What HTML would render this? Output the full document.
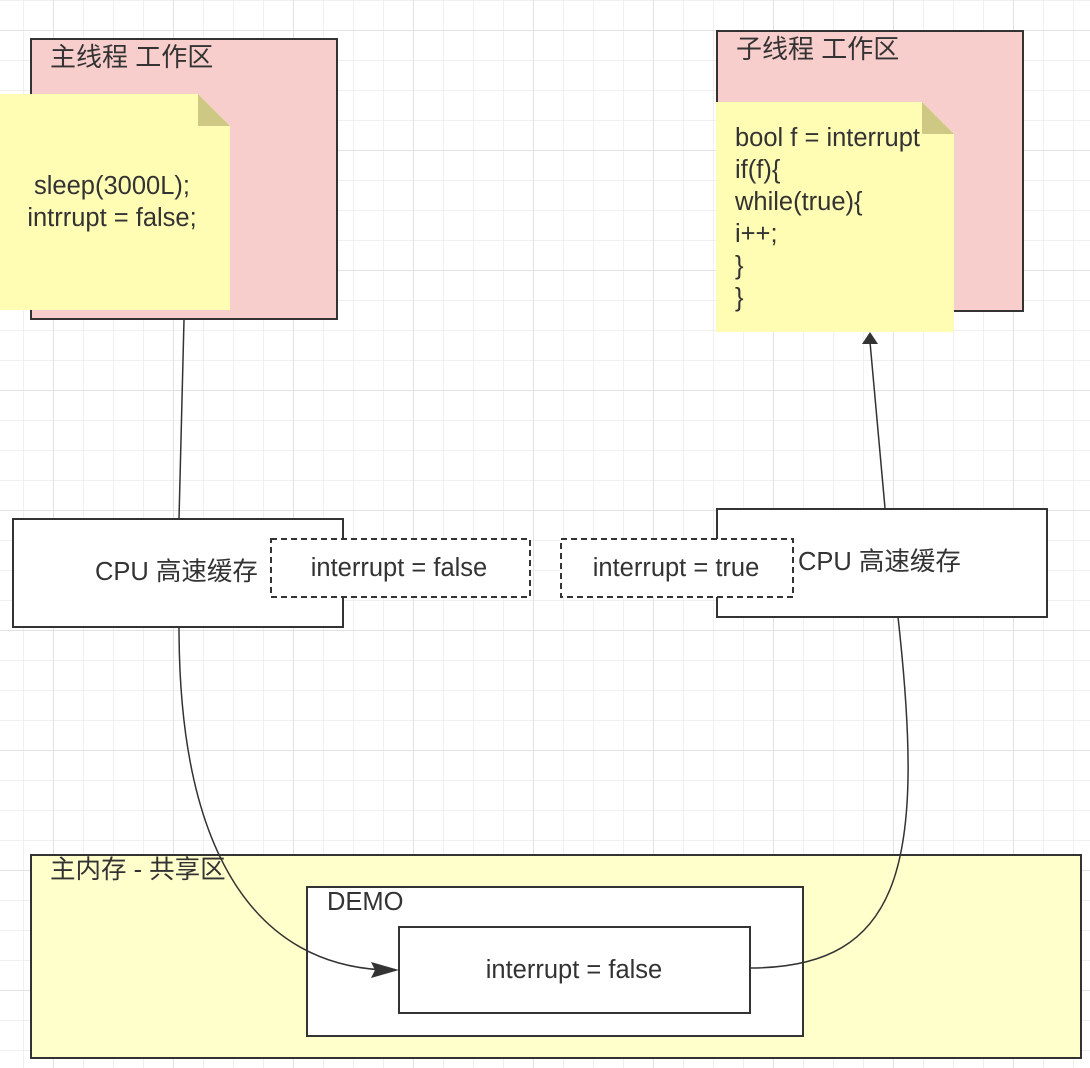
<!DOCTYPE html>
<html><head><meta charset="utf-8"><style>
html,body{margin:0;padding:0;background:#fff;}
svg{display:block}
text{font-family:"Liberation Sans","Noto Sans CJK SC",sans-serif;fill:#333;}
</style></head><body>
<svg width="1090" height="1068" viewBox="0 0 1090 1068" xmlns="http://www.w3.org/2000/svg">
<defs>
<pattern id="g" x="23" y="0" width="30" height="30" patternUnits="userSpaceOnUse">
<path d="M0 0V30M0 0H30" stroke="#ebebeb" stroke-width="1.5" fill="none"/>
</pattern>
<pattern id="G" x="53" y="30" width="120" height="120" patternUnits="userSpaceOnUse">
<path d="M0 0V120M0 0H120" stroke="#e2e2e2" stroke-width="2" fill="none"/>
</pattern>
</defs>
<rect width="1090" height="1068" fill="url(#g)"/>
<rect width="1090" height="1068" fill="url(#G)"/>

<rect x="31" y="39" width="306" height="280" fill="#f8cecc" stroke="#333" stroke-width="2"/>
<text x="50" y="66" font-size="26">主线程 工作区</text>
<path d="M0 94H198L230 126V310H0Z" fill="#fffcb4"/>
<path d="M198 94L230 126H198Z" fill="#cdc985"/>
<text x="112" y="194" font-size="25.5" text-anchor="middle">sleep(3000L);</text>
<text x="112" y="226" font-size="25.5" text-anchor="middle">intrrupt = false;</text>

<rect x="717" y="31" width="306" height="280" fill="#f8cecc" stroke="#333" stroke-width="2"/>
<text x="736" y="58" font-size="26">子线程 工作区</text>
<path d="M716 102H922L954 134V332H716Z" fill="#fffcb4"/>
<path d="M922 102L954 134H922Z" fill="#cdc985"/>
<g font-size="25.5">
<text x="735" y="146">bool f = interrupt</text>
<text x="735" y="178">if(f){</text>
<text x="735" y="210">while(true){</text>
<text x="735" y="242">i++;</text>
<text x="735" y="274">}</text>
<text x="735" y="306">}</text>
</g>

<path d="M184 320L179 519" stroke="#333" stroke-width="1.5" fill="none"/>
<path d="M885 508L870 342" stroke="#333" stroke-width="1.5" fill="none"/>
<path d="M870 332L878 344L862 344Z" fill="#333"/>

<rect x="13" y="519" width="330" height="108" fill="#fff" stroke="#333" stroke-width="2"/>
<text x="95" y="580" font-size="25.5">CPU 高速缓存</text>
<rect x="717" y="509" width="330" height="108" fill="#fff" stroke="#333" stroke-width="2"/>
<text x="798" y="570" font-size="25.5">CPU 高速缓存</text>

<rect x="271" y="539" width="259" height="58" fill="#fff" stroke="#333" stroke-width="2" stroke-dasharray="6 4"/>
<text x="399" y="576" font-size="25.5" text-anchor="middle">interrupt = false</text>
<rect x="561" y="539" width="232" height="58" fill="#fff" stroke="#333" stroke-width="2" stroke-dasharray="6 4"/>
<text x="676" y="576" font-size="25.5" text-anchor="middle">interrupt = true</text>

<rect x="31" y="855" width="1050" height="203" fill="#ffffcc" stroke="#333" stroke-width="2"/>
<text x="50" y="878" font-size="25.5">主内存 - 共享区</text>
<rect x="307" y="887" width="496" height="149" fill="#fff" stroke="#333" stroke-width="2"/>
<text x="327" y="910" font-size="25.5">DEMO</text>
<rect x="399" y="927" width="351" height="86" fill="#fff" stroke="#333" stroke-width="2"/>
<text x="574" y="978" font-size="25.5" text-anchor="middle">interrupt = false</text>

<path d="M179 627C179 860 260 965 385 970" stroke="#333" stroke-width="1.5" fill="none"/>
<path d="M399 970L371 962L375 970L371 978Z" fill="#333"/>
<path d="M750 968C905 968 925 860 898 617" stroke="#333" stroke-width="1.5" fill="none"/>
</svg>
</body></html>
